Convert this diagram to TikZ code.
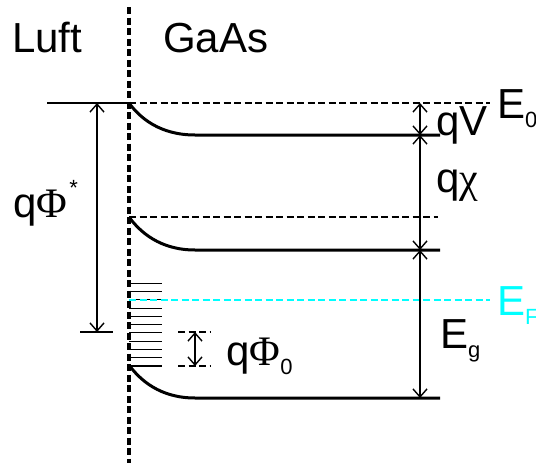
\documentclass[tikz,border=0pt]{standalone}
\usepackage{fontspec}
\setmainfont{Liberation Sans}
\newfontfamily\grk{Liberation Serif}
\usetikzlibrary{arrows.meta}
\definecolor{fermi}{RGB}{0,255,255}
\newcommand{\lowidx}[1]{\raisebox{-9pt}{\fontsize{22}{22}\selectfont #1}}
\newcommand{\highidx}[1]{\raisebox{22pt}{\fontsize{22}{22}\selectfont #1}}
\tikzset{
  lbl/.style={anchor=base west, inner sep=0pt, font=\fontsize{42}{42}\selectfont},
  band/.style={line width=3pt},
  lvl/.style={line width=2.8pt, dash pattern=on 7pt off 3.5pt},
  ifc/.style={line width=3.2pt, dash pattern=on 7pt off 3.5pt},
  fermiline/.style={line width=2.6pt, fermi, dash pattern=on 7pt off 3.5pt},
  dim/.style={line width=1.4pt, {Straight Barb[length=8pt,width=14pt]}-{Straight Barb[length=8pt,width=14pt]}},
  thinline/.style={line width=1.1pt},
}
\begin{document}
\begin{tikzpicture}[x=1pt,y=-1pt]
\useasboundingbox (0,0) rectangle (536,463);
% interface
\coordinate (ifT) at (129,7);
\coordinate (ifB) at (129,463);
% levels
\coordinate (E0a) at (129,103);
\coordinate (E0b) at (490,103);
\coordinate (CBa) at (129,103);
\coordinate (CBm) at (195,135);
\coordinate (CBb) at (440,135);
\coordinate (Vxa) at (129,217);
\coordinate (Vxb) at (438,217);
\coordinate (C2a) at (129,217);
\coordinate (C2m) at (195,250);
\coordinate (C2b) at (440,250);
\coordinate (EFa) at (129,300);
\coordinate (EFb) at (490,300);
\coordinate (VBa) at (129,365);
\coordinate (VBm) at (195,398);
\coordinate (VBb) at (440,398);
% dimension points
\coordinate (d1) at (420,103);
\coordinate (d2) at (420,135);
\coordinate (d3) at (420,250);
\coordinate (d4) at (420,398);
\coordinate (p1) at (97,103);
\coordinate (p2) at (97,332);
\coordinate (t1) at (47,103);
\coordinate (b1) at (80,332);
\coordinate (b2) at (113,332);
\coordinate (f1) at (195,332);
\coordinate (f2) at (195,366);
\coordinate (fl1) at (178,332);
\coordinate (fr1) at (210,332);
\coordinate (fl2) at (178,366);
\coordinate (fr2) at (210,366);

% surface states
\foreach \k in {0,...,10}{
  \draw[thinline] (129,{283.3+8.27*\k}) -- (162,{283.3+8.27*\k});
}
\draw[ifc] (ifT) -- (ifB);
\draw[lvl] (E0a) -- (E0b);
\draw[band] (CBa) .. controls (140,118) and (160,135) .. (CBm) -- (CBb);
\draw[lvl] (Vxa) -- (Vxb);
\draw[band] (C2a) .. controls (140,232) and (160,250) .. (C2m) -- (C2b);
\draw[fermiline] (EFa) -- (EFb);
\draw[band] (VBa) .. controls (140,380) and (160,398) .. (VBm) -- (VBb);

% dimensions
\draw[dim] (d1) -- (d2);
\draw[dim] (d2) -- (d3);
\draw[dim] (d3) -- (d4);
\draw[thinline] (t1) -- (E0a);
\draw[thinline] (b1) -- (b2);
\draw[dim] (p1) -- (p2);
\draw[lvl] (fl1) -- (fr1);
\draw[lvl] (fl2) -- (fr2);
\draw[dim] (f1) -- (f2);

% labels
\node[lbl] (luft) at (12,52) {Luft};
\node[lbl] (gaas) at (163,52) {GaAs};
\node[lbl] (phistar) at (13,217) {q{\grk Φ}\kern2pt\highidx{*}};
\node[lbl] (qv) at (436,135) {qV};
\node[lbl] (e0) at (497,118) {E\lowidx{0}};
\node[lbl] (qchi) at (436,192) {q{\grk χ}};
\node[lbl, text=fermi] (ef) at (497,315) {E\lowidx{F}};
\node[lbl] (eg) at (440,348) {E\lowidx{g}};
\node[lbl] (phi0) at (226,365) {q{\grk Φ}\lowidx{0}};
\end{tikzpicture}
\end{document}
